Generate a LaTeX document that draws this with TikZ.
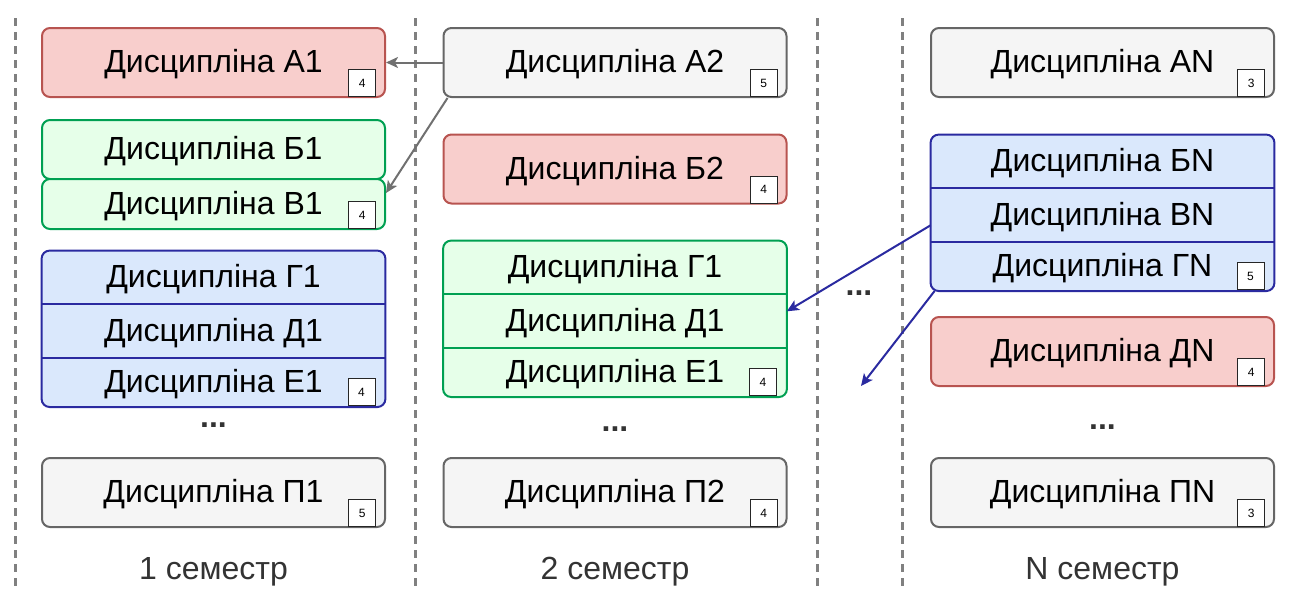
\documentclass[tikz,border=0pt]{standalone}
\usepackage{fontspec}
\setmainfont{Liberation Sans}
\usetikzlibrary{positioning,arrows.meta,backgrounds}

\definecolor{redfill}{HTML}{F8CECC}
\definecolor{redline}{HTML}{B85450}
\definecolor{greenfill}{HTML}{E6FFE9}
\definecolor{greenline}{HTML}{00A052}
\definecolor{bluefill}{HTML}{DAE8FC}
\definecolor{blueline}{HTML}{2A2AA0}
\definecolor{grayfill}{HTML}{F5F5F5}
\definecolor{grayline}{HTML}{666666}
\definecolor{arrowgray}{HTML}{707070}
\definecolor{sepgray}{HTML}{808080}
\definecolor{labelgray}{HTML}{333333}

\tikzset{
  disc/.style={draw, rounded corners=4pt, line width=1pt, minimum width=171.5pt,
    minimum height=34.5pt, inner sep=0pt, text height=11.5pt, text depth=1.5pt,
    font=\fontsize{16}{19}\selectfont},
  redbox/.style={disc, draw=redline, fill=redfill},
  greenbox/.style={disc, draw=greenline, fill=greenfill},
  graybox/.style={disc, draw=grayline, fill=grayfill},
  row/.style={minimum width=171.5pt, minimum height=26.5pt, inner sep=0pt,
    text height=11.5pt, text depth=1.5pt, font=\fontsize{16}{19}\selectfont},
  lastrow/.style={row, minimum height=24pt},
  group/.style={rounded corners=4pt, line width=1pt},
  ects/.style={draw=black!85, fill=white, line width=0.4pt, minimum size=13.5pt,
    inner sep=0pt, font=\fontsize{6}{7}\selectfont},
  dots/.style={font=\fontsize{16}{19}\selectfont\bfseries, text=labelgray},
  semester/.style={font=\fontsize{16}{19}\selectfont, text=labelgray},
  sep/.style={draw=sepgray, line width=1.5pt, dash pattern=on 4pt off 3pt},
  conn/.style={->, line width=1pt, draw=arrowgray},
  blueconn/.style={->, line width=1pt, draw=blueline}
}

% credit badge in the lower right corner of a box
\newcommand{\ectsbox}[2]{\node[ects, anchor=south east, xshift=-5pt, yshift=0.5pt] (#1k) at (#1.south east) {#2};}

\begin{document}
\begin{tikzpicture}[x=0.5pt,y=-0.5pt,>={Stealth[length=6pt,width=5.5pt,inset=1.5pt]}]
\useasboundingbox (0,0) rectangle (1298,589);

% semester borders
\foreach \xs in {15,415,817,902}
  \draw[sep] (\xs,18) -- (\xs,589);

% 1 semester
\node[redbox] (A1) at (213.5,62.5) {Дисципліна А1};
\node[greenbox, minimum height=29.5pt, below=10.5pt of A1] (B1) {Дисципліна Б1};
\node[greenbox, minimum height=25pt, below=-1pt of B1] (V1) {Дисципліна В1};
\node[row] (G1) at (213.5,277.5) {Дисципліна Г1};
\node[row, below=0pt of G1] (D1) {Дисципліна Д1};
\node[lastrow, below=0pt of D1] (E1) {Дисципліна Е1};
\node[dots] (dots1) at (213.5,425) {...};
\node[graybox] (P1) at (213.5,492.5) {Дисципліна П1};
\node[semester] (sem1) at (213.5,572) {1 семестр};

% 2 semester
\node[graybox] (A2) at (615,62.5) {Дисципліна А2};
\node[redbox] (B2) at (615,169) {Дисципліна Б2};
\node[row] (G2) at (615,267.5) {Дисципліна Г1};
\node[row, below=0pt of G2] (D2) {Дисципліна Д1};
\node[lastrow, below=0pt of D2] (E2) {Дисципліна Е1};
\node[dots] (dots2) at (615,429) {...};
\node[graybox] (P2) at (615,492.5) {Дисципліна П2};
\node[semester] (sem2) at (615,572) {2 семестр};

\node[dots] (dotsmid) at (859,293) {...};

% N semester
\node[graybox] (AN) at (1102.5,62.5) {Дисципліна AN};
\node[row] (BN) at (1102.5,161.5) {Дисципліна БN};
\node[row, below=0pt of BN] (VN) {Дисципліна ВN};
\node[lastrow, below=0pt of VN] (GN) {Дисципліна ГN};
\node[redbox] (DN) at (1102.5,351.5) {Дисципліна ДN};
\node[dots] (dotsN) at (1102.5,427) {...};
\node[graybox] (PN) at (1102.5,492.5) {Дисципліна ПN};
\node[semester] (semN) at (1102.5,572) {N семестр};

\begin{scope}[on background layer]
\draw[group, draw=blueline, fill=bluefill] (G1.north west) rectangle (E1.south east);
\draw[group, draw=greenline, fill=greenfill] (G2.north west) rectangle (E2.south east);
\draw[group, draw=blueline, fill=bluefill] (BN.north west) rectangle (GN.south east);
\end{scope}
\draw[blueline, line width=1pt] (G1.south west) -- (G1.south east) (D1.south west) -- (D1.south east);
\draw[greenline, line width=1pt] (G2.south west) -- (G2.south east) (D2.south west) -- (D2.south east);
\draw[blueline, line width=1pt] (BN.south west) -- (BN.south east) (VN.south west) -- (VN.south east);

\ectsbox{A1}{4}
\ectsbox{V1}{4}
\ectsbox{E1}{4}
\ectsbox{P1}{5}
\ectsbox{A2}{5}
\ectsbox{B2}{4}
\ectsbox{E2}{4}
\ectsbox{P2}{4}
\ectsbox{AN}{3}
\ectsbox{GN}{5}
\ectsbox{DN}{4}
\ectsbox{PN}{3}

\coordinate (free) at (861,386);
\draw[conn] (A2.west) -- (A1.east);
\draw[conn] ([xshift=2.5pt]A2.south west) -- ([yshift=-7.5pt]V1.north east);
\draw[blueconn] ([yshift=-5pt]VN.west) -- ([yshift=5pt]D2.east);
\draw[blueconn] ([xshift=2pt]GN.south west) -- (free);
\end{tikzpicture}
\end{document}
